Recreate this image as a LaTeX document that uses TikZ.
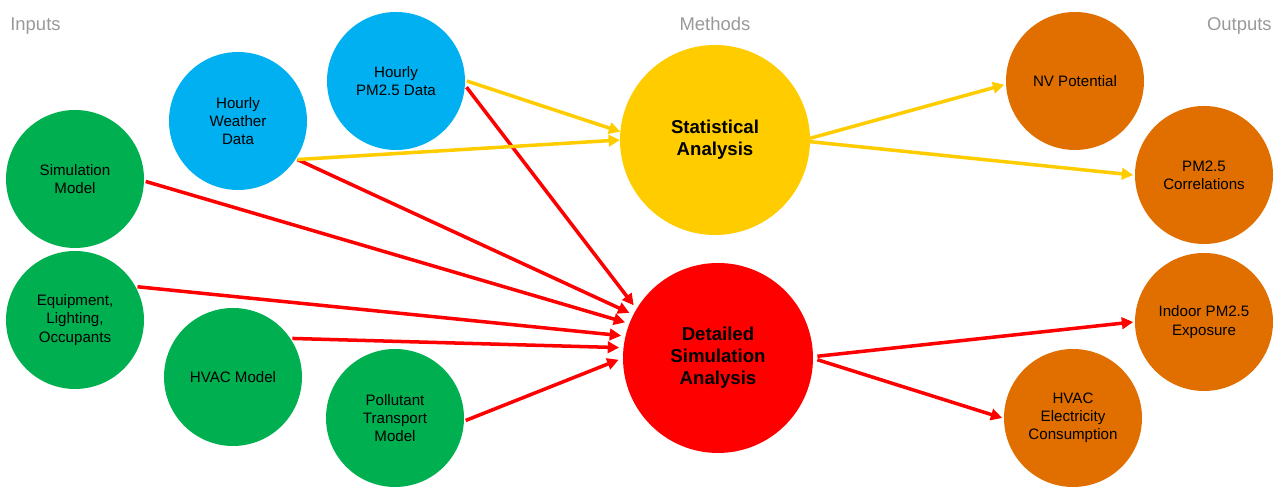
\documentclass[tikz,border=0pt]{standalone}
\usepackage{fontspec}
\setmainfont{Liberation Sans}
\usetikzlibrary{arrows.meta}
\definecolor{ingreen}{HTML}{00B050}
\definecolor{inblue}{HTML}{00B0F0}
\definecolor{statyel}{HTML}{FFCC00}
\definecolor{detred}{HTML}{FF0000}
\definecolor{outorange}{HTML}{E06F00}
\definecolor{hdgray}{HTML}{999999}
\begin{document}
\begin{tikzpicture}[>={Triangle[length=6.5pt,width=6.5pt]},
	bubble/.style={circle,minimum size=2.76cm,inner sep=0pt,outer sep=1pt,align=center,
		font=\fontsize{8.6}{10.4}\selectfont},
	bigbubble/.style={circle,minimum size=3.8cm,inner sep=0pt,outer sep=0pt,align=center,
		font=\fontsize{10.6}{12.6}\selectfont\bfseries},
	rarr/.style={->,draw=detred,line width=2pt},
	yarr/.style={->,draw=statyel,line width=2pt},
	head/.style={text=hdgray,inner sep=0pt,font=\fontsize{10.5}{12}\selectfont}]
	
	\useasboundingbox (0,0) rectangle (25.62,9.74);
	
	%----------------------
	% Tiêu đề cột
	%----------------------
	\node[head,anchor=base west] (inp) at (0.2,9.12) {Inputs};
	\node[head,anchor=base] (meth) at (14.30,9.12) {Methods};
	\node[head,anchor=base east] (outp) at (25.44,9.12) {Outputs};
	
	%----------------------
	% Đầu vào
	%----------------------
	\node[bubble,fill=ingreen] (sim) at (1.50,6.16) {Simulation\\Model};
	\node[bubble,fill=ingreen] (equip) at (1.50,3.34) {Equipment,\\Lighting,\\Occupants};
	\node[bubble,fill=ingreen] (hvac) at (4.66,2.20) {HVAC Model};
	\node[bubble,fill=ingreen] (poll) at (7.90,1.38) {Pollutant\\Transport\\Model};
	\node[bubble,fill=inblue] (wthr) at (4.76,7.32) {Hourly\\Weather\\Data};
	\node[bubble,fill=inblue] (pmdata) at (7.92,8.12) {Hourly\\PM2.5 Data};
	
	% Phương pháp
	\node[bigbubble,fill=statyel] (stat) at (14.30,6.94) {Statistical\\Analysis};
	\node[bigbubble,fill=detred,outer sep=2.5pt] (det) at (14.36,2.58) {Detailed\\Simulation\\Analysis};
	
	% Đầu ra
	\node[bubble,fill=outorange] (nv) at (21.50,8.12) {NV Potential};
	\node[bubble,fill=outorange] (corr) at (24.08,6.24) {PM2.5\\Correlations};
	\node[bubble,fill=outorange] (indoor) at (24.08,3.30) {Indoor PM2.5\\Exposure};
	\node[bubble,fill=outorange] (hvacel) at (21.46,1.38) {HVAC\\Electricity\\Consumption};
	
	%----------------------
	% Mũi tên
	%----------------------
	% nhánh mô phỏng
	\draw[rarr] (pmdata.-5) -- (det.148);
	\draw[rarr] (wthr.-33) -- (det.153);
	\draw[rarr] (sim.-2) -- (det.159);
	\draw[rarr] (equip.28) -- (det.167);
	\draw[rarr] (hvac.33) -- (det.174);
	\draw[rarr] (poll.-2) -- (det.181);
	\draw[rarr] (det.1) -- (indoor.west);
	\draw[rarr] (det.-1) -- (hvacel.west);
	
	% nhánh thống kê
	\draw[yarr] (wthr.-33) -- (stat.180);
	\draw[yarr] (pmdata.0) -- (stat.175);
	\draw[yarr] (stat.1) -- (nv.183);
	\draw[yarr] (stat.-1) -- (corr.west);
	
\end{tikzpicture}
\end{document}
